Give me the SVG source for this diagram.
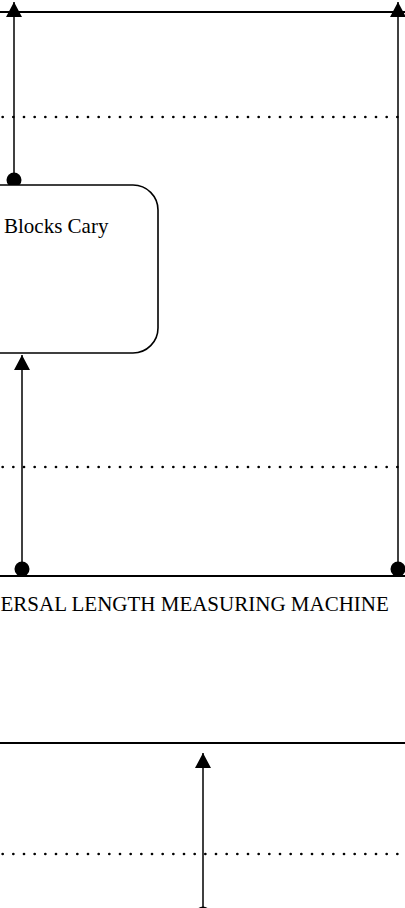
<svg xmlns="http://www.w3.org/2000/svg" width="405" height="908" viewBox="0 0 405 908">
<style>
.lane{stroke:#000;stroke-width:2;fill:none}
.dot{stroke:#000;stroke-width:2.7;stroke-dasharray:0 10.667;stroke-linecap:round;fill:none}
.conn{stroke:#000;stroke-width:1.5;fill:none}
.node{fill:#fff;stroke:#000;stroke-width:1.6}
.lbl{font-family:"Liberation Serif","Times New Roman",serif;font-size:21px;fill:#000}
</style>
<defs>
<marker id="arr" markerUnits="userSpaceOnUse" markerWidth="16" markerHeight="16" refX="15" refY="8" orient="auto">
<path d="M0,0 L15,8 L0,16 Z" fill="#000"/>
</marker>
</defs>
<rect width="405" height="908" fill="#fff"/>
<g id="lanes">
<line class="lane" x1="0" y1="12" x2="405" y2="12"/>
<line class="dot" x1="2.67" y1="117" x2="405" y2="117"/>
<line class="dot" x1="2.67" y1="467" x2="405" y2="467"/>
<line class="lane" x1="0" y1="576" x2="405" y2="576"/>
<line class="lane" x1="0" y1="743" x2="405" y2="743"/>
<line class="dot" x1="2.67" y1="854" x2="405" y2="854"/>
</g>
<g id="connectors">
<line class="conn" x1="14" y1="180" x2="14" y2="2" marker-end="url(#arr)"/>
<circle cx="14" cy="180" r="7.5" fill="#000"/>
<line class="conn" x1="398" y1="569" x2="398" y2="2" marker-end="url(#arr)"/>
<circle cx="398" cy="569" r="7.5" fill="#000"/>
<line class="conn" x1="22" y1="569" x2="22" y2="355" marker-end="url(#arr)"/>
<circle cx="22" cy="569" r="7.5" fill="#000"/>
<line class="conn" x1="203" y1="914" x2="203" y2="753" marker-end="url(#arr)"/>
<circle cx="203" cy="914" r="7.5" fill="#000"/>
</g>
<g id="node-blocks-cary">
<rect class="node" x="-60" y="185" width="218" height="168" rx="25" ry="25"/>
<text class="lbl" x="4" y="233">Blocks Cary</text>
</g>
<g id="title">
<text class="lbl" x="0.5" y="611">ERSAL LENGTH MEASURING MACHINE</text>
</g>
</svg>
